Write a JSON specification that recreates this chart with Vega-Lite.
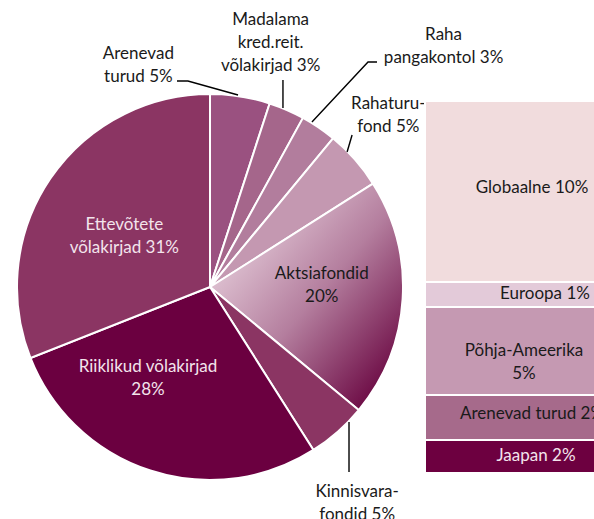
{
  "$schema": "https://vega.github.io/schema/vega-lite/v6.json",
  "width": 594,
  "height": 519,
  "autosize": {"type": "none"},
  "padding": 0,
  "background": "white",
  "config": {"view": {"stroke": null}, "text": {"font": "Lato", "fontSize": 17, "lineBreak": "\n", "lineHeight": 23}},
  "datasets": {
    "pie": [
      {"cat": "Arenevad turud", "value": 5, "ord": 1, "label": "Arenevad\nturud 5%"},
      {"cat": "Madalama kred.reit. võlakirjad", "value": 3, "ord": 2, "label": "Madalama\nkred.reit.\nvõlakirjad 3%"},
      {"cat": "Raha pangakontol", "value": 3, "ord": 3, "label": "Raha\npangakontol 3%"},
      {"cat": "Rahaturufond", "value": 5, "ord": 4, "label": "Rahaturu-\nfond 5%"},
      {"cat": "Aktsiafondid", "value": 20, "ord": 5, "label": "Aktsiafondid\n20%"},
      {"cat": "Kinnisvarafondid", "value": 5, "ord": 6, "label": "Kinnisvara-\nfondid 5%"},
      {"cat": "Riiklikud võlakirjad", "value": 28, "ord": 7, "label": "Riiklikud võlakirjad\n28%"},
      {"cat": "Ettevõtete võlakirjad", "value": 31, "ord": 8, "label": "Ettevõtete\nvõlakirjad 31%"}
    ],
    "bar": [
      {"region": "Jaapan", "value": 1.78, "ord": 1, "label": "Jaapan 2%"},
      {"region": "Arenevad turud", "value": 2.42, "ord": 2, "label": "Arenevad turud 2%"},
      {"region": "Põhja-Ameerika", "value": 4.73, "ord": 3, "label": "Põhja-Ameerika\n5%"},
      {"region": "Euroopa", "value": 1.34, "ord": 4, "label": "Euroopa 1%"},
      {"region": "Globaalne", "value": 9.73, "ord": 5, "label": "Globaalne 10%"}
    ],
    "leaders": [
      {"id": "a", "ord": 1, "px": -0.172, "py": 1.073},
      {"id": "a", "ord": 2, "px": -0.115, "py": 1.073},
      {"id": "a", "ord": 3, "px": 0.146, "py": 1.0},
      {"id": "m", "ord": 1, "px": 0.38, "py": 1.078},
      {"id": "m", "ord": 2, "px": 0.38, "py": 0.932},
      {"id": "r", "ord": 1, "px": 0.87, "py": 1.172},
      {"id": "r", "ord": 2, "px": 0.823, "py": 1.172},
      {"id": "r", "ord": 3, "px": 0.531, "py": 0.859},
      {"id": "f", "ord": 1, "px": 0.74, "py": 0.792},
      {"id": "f", "ord": 2, "px": 0.714, "py": 0.703},
      {"id": "k", "ord": 1, "px": 0.724, "py": -0.703},
      {"id": "k", "ord": 2, "px": 0.724, "py": -0.964}
    ]
  },
  "resolve": {"scale": {"y": "independent", "color": "independent"}},
  "layer": [
    {
      "data": {"name": "pie"},
      "mark": {"type": "arc", "outerRadius": 193, "stroke": "white", "strokeWidth": 2},
      "encoding": {
        "x": {"datum": 0, "type": "quantitative", "scale": {"domain": [-1.09375, 2.0], "nice": false, "zero": false}, "axis": null},
        "y": {"datum": 0, "type": "quantitative", "scale": {"domain": [-1.2083, 1.4948], "nice": false, "zero": false}, "axis": null},
        "theta": {"field": "value", "type": "quantitative", "stack": true},
        "order": {"field": "ord", "type": "quantitative"},
        "color": {
          "condition": {"test": "datum.cat === 'Aktsiafondid'", "value": {"gradient": "linear", "x1": 0.1, "y1": 0.2, "x2": 0.85, "y2": 0.95, "stops": [{"offset": 0, "color": "#e6cedb"}, {"offset": 0.5, "color": "#b47e9e"}, {"offset": 1, "color": "#6c0a44"}]}},
          "field": "cat", "type": "nominal", "legend": null,
          "scale": {
            "domain": ["Arenevad turud", "Madalama kred.reit. võlakirjad", "Raha pangakontol", "Rahaturufond", "Aktsiafondid", "Kinnisvarafondid", "Riiklikud võlakirjad", "Ettevõtete võlakirjad"],
            "range": ["#9a5180", "#a5668b", "#b27d9d", "#c498b1", "#b47e9e", "#8b3563", "#6b0040", "#8b3563"]
          }
        }
      }
    },
    {
      "data": {"name": "leaders"},
      "mark": {"type": "line", "color": "black", "strokeWidth": 1.4},
      "encoding": {
        "x": {"field": "px", "type": "quantitative", "scale": {"domain": [-1.09375, 2.0], "nice": false, "zero": false}, "axis": null},
        "y": {"field": "py", "type": "quantitative", "scale": {"domain": [-1.2083, 1.4948], "nice": false, "zero": false}, "axis": null},
        "detail": {"field": "id"},
        "order": {"field": "ord", "type": "quantitative"}
      }
    },
    {
      "data": {"name": "pie"},
      "mark": {"type": "text", "radius": 112, "dy": -20, "color": "#1a1a1a"},
      "encoding": {
        "x": {"datum": 0, "type": "quantitative", "scale": {"domain": [-1.09375, 2.0], "nice": false, "zero": false}, "axis": null},
        "y": {"datum": 0, "type": "quantitative", "scale": {"domain": [-1.2083, 1.4948], "nice": false, "zero": false}, "axis": null},
        "theta": {"field": "value", "type": "quantitative", "stack": true},
        "order": {"field": "ord", "type": "quantitative"},
        "text": {"condition": {"test": "datum.cat === 'Aktsiafondid'", "field": "label"}, "value": ""}
      }
    },
    {
      "data": {"name": "pie"},
      "mark": {"type": "text", "radius": 97, "dx": -32, "dy": -12, "color": "#f3e4ec"},
      "encoding": {
        "x": {"datum": 0, "type": "quantitative", "scale": {"domain": [-1.09375, 2.0], "nice": false, "zero": false}, "axis": null},
        "y": {"datum": 0, "type": "quantitative", "scale": {"domain": [-1.2083, 1.4948], "nice": false, "zero": false}, "axis": null},
        "theta": {"field": "value", "type": "quantitative", "stack": true},
        "order": {"field": "ord", "type": "quantitative"},
        "text": {"condition": {"test": "datum.cat === 'Riiklikud võlakirjad'", "field": "label"}, "value": ""}
      }
    },
    {
      "data": {"name": "pie"},
      "mark": {"type": "text", "radius": 100, "dx": -3, "dy": -6, "color": "#f3e4ec"},
      "encoding": {
        "x": {"datum": 0, "type": "quantitative", "scale": {"domain": [-1.09375, 2.0], "nice": false, "zero": false}, "axis": null},
        "y": {"datum": 0, "type": "quantitative", "scale": {"domain": [-1.2083, 1.4948], "nice": false, "zero": false}, "axis": null},
        "theta": {"field": "value", "type": "quantitative", "stack": true},
        "order": {"field": "ord", "type": "quantitative"},
        "text": {"condition": {"test": "datum.cat === 'Ettevõtete võlakirjad'", "field": "label"}, "value": ""}
      }
    },
    {
      "data": {"name": "pie"},
      "mark": {"type": "text", "radius": 226, "dx": -107, "dy": -10, "color": "#1a1a1a"},
      "encoding": {
        "x": {"datum": 0, "type": "quantitative", "scale": {"domain": [-1.09375, 2.0], "nice": false, "zero": false}, "axis": null},
        "y": {"datum": 0, "type": "quantitative", "scale": {"domain": [-1.2083, 1.4948], "nice": false, "zero": false}, "axis": null},
        "theta": {"field": "value", "type": "quantitative", "stack": true},
        "order": {"field": "ord", "type": "quantitative"},
        "text": {"condition": {"test": "datum.cat === 'Arenevad turud'", "field": "label"}, "value": ""}
      }
    },
    {
      "data": {"name": "pie"},
      "mark": {"type": "text", "radius": 266, "dx": -45, "dy": -23, "color": "#1a1a1a"},
      "encoding": {
        "x": {"datum": 0, "type": "quantitative", "scale": {"domain": [-1.09375, 2.0], "nice": false, "zero": false}, "axis": null},
        "y": {"datum": 0, "type": "quantitative", "scale": {"domain": [-1.2083, 1.4948], "nice": false, "zero": false}, "axis": null},
        "theta": {"field": "value", "type": "quantitative", "stack": true},
        "order": {"field": "ord", "type": "quantitative"},
        "text": {"condition": {"test": "datum.cat === 'Madalama kred.reit. võlakirjad'", "field": "label"}, "value": ""}
      }
    },
    {
      "data": {"name": "pie"},
      "mark": {"type": "text", "radius": 291, "dx": 70, "dy": -11, "color": "#1a1a1a"},
      "encoding": {
        "x": {"datum": 0, "type": "quantitative", "scale": {"domain": [-1.09375, 2.0], "nice": false, "zero": false}, "axis": null},
        "y": {"datum": 0, "type": "quantitative", "scale": {"domain": [-1.2083, 1.4948], "nice": false, "zero": false}, "axis": null},
        "theta": {"field": "value", "type": "quantitative", "stack": true},
        "order": {"field": "ord", "type": "quantitative"},
        "text": {"condition": {"test": "datum.cat === 'Raha pangakontol'", "field": "label"}, "value": ""}
      }
    },
    {
      "data": {"name": "pie"},
      "mark": {"type": "text", "radius": 259, "dx": -16, "dy": -12, "color": "#1a1a1a"},
      "encoding": {
        "x": {"datum": 0, "type": "quantitative", "scale": {"domain": [-1.09375, 2.0], "nice": false, "zero": false}, "axis": null},
        "y": {"datum": 0, "type": "quantitative", "scale": {"domain": [-1.2083, 1.4948], "nice": false, "zero": false}, "axis": null},
        "theta": {"field": "value", "type": "quantitative", "stack": true},
        "order": {"field": "ord", "type": "quantitative"},
        "text": {"condition": {"test": "datum.cat === 'Rahaturufond'", "field": "label"}, "value": ""}
      }
    },
    {
      "data": {"name": "pie"},
      "mark": {"type": "text", "radius": 286, "dx": -42, "dy": -10, "color": "#1a1a1a"},
      "encoding": {
        "x": {"datum": 0, "type": "quantitative", "scale": {"domain": [-1.09375, 2.0], "nice": false, "zero": false}, "axis": null},
        "y": {"datum": 0, "type": "quantitative", "scale": {"domain": [-1.2083, 1.4948], "nice": false, "zero": false}, "axis": null},
        "theta": {"field": "value", "type": "quantitative", "stack": true},
        "order": {"field": "ord", "type": "quantitative"},
        "text": {"condition": {"test": "datum.cat === 'Kinnisvarafondid'", "field": "label"}, "value": ""}
      }
    },
    {
      "data": {"name": "bar"},
      "transform": [
        {"stack": "value", "groupby": [], "sort": [{"field": "ord", "order": "ascending"}], "as": ["y0", "y1"]}
      ],
      "mark": {"type": "rect", "stroke": "white", "strokeWidth": 2},
      "encoding": {
        "x": {"datum": 1.1198, "type": "quantitative", "scale": {"domain": [-1.09375, 2.0], "nice": false, "zero": false}, "axis": null},
        "x2": {"datum": 2.3},
        "y": {"field": "y0", "type": "quantitative", "scale": {"domain": [-2.473, 25.43], "nice": false, "zero": false}, "axis": null},
        "y2": {"field": "y1"},
        "color": {
          "field": "region", "type": "nominal", "legend": null,
          "scale": {
            "domain": ["Jaapan", "Arenevad turud", "Põhja-Ameerika", "Euroopa", "Globaalne"],
            "range": ["#6d0040", "#a66a8b", "#c599b2", "#e3cad9", "#f1dcdd"]
          }
        }
      }
    },
    {
      "data": {"name": "bar"},
      "transform": [
        {"stack": "value", "groupby": [], "sort": [{"field": "ord", "order": "ascending"}], "as": ["y0", "y1"]},
        {"calculate": "(datum.y0 + datum.y1) / 2", "as": "mid"},
        {"filter": "datum.region === 'Globaalne' || datum.region === 'Arenevad turud'"}
      ],
      "mark": {"type": "text", "color": "#1a1a1a", "dy": -3},
      "encoding": {
        "x": {"datum": 1.677, "type": "quantitative", "scale": {"domain": [-1.09375, 2.0], "nice": false, "zero": false}, "axis": null},
        "y": {"field": "mid", "type": "quantitative", "scale": {"domain": [-2.473, 25.43], "nice": false, "zero": false}, "axis": null},
        "text": {"field": "label"}
      }
    },
    {
      "data": {"name": "bar"},
      "transform": [
        {"stack": "value", "groupby": [], "sort": [{"field": "ord", "order": "ascending"}], "as": ["y0", "y1"]},
        {"calculate": "(datum.y0 + datum.y1) / 2", "as": "mid"},
        {"filter": "datum.region === 'Euroopa'"}
      ],
      "mark": {"type": "text", "color": "#1a1a1a", "dx": 13},
      "encoding": {
        "x": {"datum": 1.677, "type": "quantitative", "scale": {"domain": [-1.09375, 2.0], "nice": false, "zero": false}, "axis": null},
        "y": {"field": "mid", "type": "quantitative", "scale": {"domain": [-2.473, 25.43], "nice": false, "zero": false}, "axis": null},
        "text": {"field": "label"}
      }
    },
    {
      "data": {"name": "bar"},
      "transform": [
        {"stack": "value", "groupby": [], "sort": [{"field": "ord", "order": "ascending"}], "as": ["y0", "y1"]},
        {"calculate": "(datum.y0 + datum.y1) / 2", "as": "mid"},
        {"filter": "datum.region === 'Põhja-Ameerika'"}
      ],
      "mark": {"type": "text", "color": "#1a1a1a", "dx": -8, "dy": 0},
      "encoding": {
        "x": {"datum": 1.677, "type": "quantitative", "scale": {"domain": [-1.09375, 2.0], "nice": false, "zero": false}, "axis": null},
        "y": {"field": "mid", "type": "quantitative", "scale": {"domain": [-2.473, 25.43], "nice": false, "zero": false}, "axis": null},
        "text": {"field": "label"}
      }
    },
    {
      "data": {"name": "bar"},
      "transform": [
        {"stack": "value", "groupby": [], "sort": [{"field": "ord", "order": "ascending"}], "as": ["y0", "y1"]},
        {"calculate": "(datum.y0 + datum.y1) / 2", "as": "mid"},
        {"filter": "datum.region === 'Jaapan'"}
      ],
      "mark": {"type": "text", "color": "#f3e4ec", "dx": 4},
      "encoding": {
        "x": {"datum": 1.677, "type": "quantitative", "scale": {"domain": [-1.09375, 2.0], "nice": false, "zero": false}, "axis": null},
        "y": {"field": "mid", "type": "quantitative", "scale": {"domain": [-2.473, 25.43], "nice": false, "zero": false}, "axis": null},
        "text": {"field": "label"}
      }
    }
  ]
}
